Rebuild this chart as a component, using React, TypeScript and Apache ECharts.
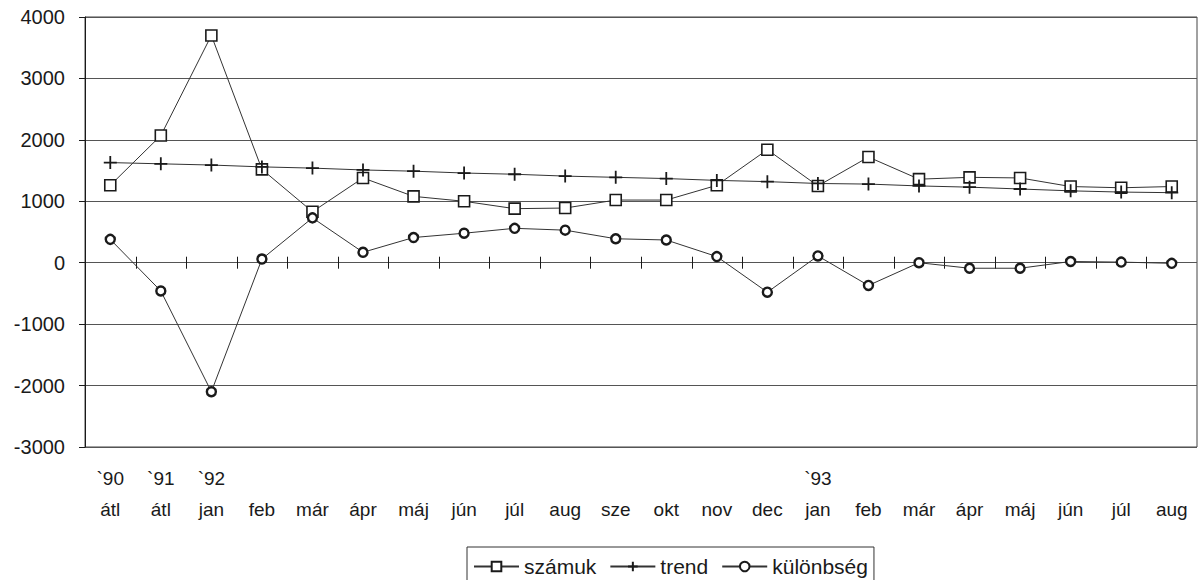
import React, { useEffect, useRef } from "react";
import * as echarts from "echarts";

const categories = [
  "`90\nátl", "`91\nátl", "`92\njan", "\nfeb", "\nmár", "\nápr", "\nmáj", "\njún",
  "\njúl", "\naug", "\nsze", "\nokt", "\nnov", "\ndec", "`93\njan", "\nfeb",
  "\nmár", "\nápr", "\nmáj", "\njún", "\njúl", "\naug",
];

const szamuk = [1260, 2070, 3700, 1520, 830, 1380, 1080, 1000, 880, 890, 1020, 1020, 1260, 1840, 1250, 1720, 1360, 1390, 1380, 1240, 1220, 1240];
const trend = [1630, 1610, 1590, 1560, 1540, 1510, 1490, 1460, 1440, 1410, 1390, 1370, 1340, 1320, 1290, 1280, 1250, 1230, 1200, 1170, 1150, 1140];
const kulonbseg = [380, -460, -2100, 60, 730, 170, 410, 480, 560, 530, 390, 370, 100, -480, 110, -370, 0, -90, -90, 20, 10, -10];

const yTicks = { min: -3000, max: 4000, interval: 1000 };

const FONT = "'Liberation Sans', Arial, Helvetica, sans-serif";
const INK = "#1a1a1a";

export default function App() {
  const ref = useRef<HTMLDivElement>(null);
  useEffect(() => {
    if (!ref.current) return;
    const chart = echarts.init(ref.current, null, { renderer: "svg" });
    chart.setOption({
      animation: false,
      backgroundColor: "#fff",
      textStyle: { fontFamily: FONT },
      grid: {
        left: 85,
        right: 5,
        top: 17,
        bottom: 133,
        show: true,
        borderColor: "#444",
        borderWidth: 1,
        containLabel: false,
      },
      legend: {
        left: 467,
        top: 547,
        orient: "horizontal",
        padding: [9, 6, 9, 6],
        itemGap: 13,
        itemWidth: 45,
        itemHeight: 12,
        borderColor: "#333",
        borderWidth: 1,
        textStyle: { fontFamily: FONT, fontSize: 21, color: INK },
        data: ["számuk", "trend", "különbség"],
      },
      xAxis: {
        type: "category",
        data: categories,
        position: "bottom",
        axisLine: { show: false, onZero: false },
        axisTick: { show: false },
        axisLabel: {
          interval: 0,
          margin: 16,
          fontFamily: FONT,
          fontSize: 19,
          lineHeight: 31,
          color: INK,
          verticalAlign: "top",
        },
        splitLine: { show: false },
      },
      yAxis: {
        type: "value",
        min: yTicks.min,
        max: yTicks.max,
        interval: yTicks.interval,
        axisLine: { show: true, lineStyle: { color: INK, width: 1 } },
        axisTick: { show: true, length: 6, lineStyle: { color: INK } },
        axisLabel: {
          margin: 20,
          fontFamily: FONT,
          fontSize: 20,
          color: INK,
          formatter: (v: number) => String(v),
        },
        splitLine: { show: true, lineStyle: { color: "#555", width: 1 } },
      },
      series: [
        {
          name: "zeroTicks",
          type: "custom",
          silent: true,
          z: 2,
          data: categories.map((_, i) => [i, 0]),
          renderItem: (params: any, api: any) => {
            const p = api.coord([api.value(0), 0]);
            const w = api.size([1, 0])[0];
            const x = Math.round(p[0] - w / 2) + 0.5;
            return {
              type: "line",
              shape: { x1: x, y1: p[1] - 6, x2: x, y2: p[1] + 6 },
              style: { stroke: INK, lineWidth: 1 },
            };
          },
        },
        {
          name: "számuk",
          type: "line",
          data: szamuk,
          symbol: "rect",
          symbolSize: 11,
          lineStyle: { color: "#333", width: 1 },
          itemStyle: { color: "#fff", borderColor: INK, borderWidth: 1.6 },
          z: 3,
        },
        {
          name: "trend",
          type: "line",
          data: trend,
          symbol: "path://M5,0L5,10M0,5L10,5",
          symbolSize: 13,
          lineStyle: { color: "#333", width: 1 },
          itemStyle: { color: INK, borderColor: INK, borderWidth: 1.8 },
          z: 4,
        },
        {
          name: "különbség",
          type: "line",
          data: kulonbseg,
          symbol: "circle",
          symbolSize: 9,
          lineStyle: { color: "#333", width: 1 },
          itemStyle: { color: "#fff", borderColor: INK, borderWidth: 2.4 },
          z: 3,
        },
      ],
    });
    return () => chart.dispose();
  }, []);
  return <div ref={ref} style={{ width: 1202, height: 580, position: "absolute", left: 0, top: 0 }} />;
}
